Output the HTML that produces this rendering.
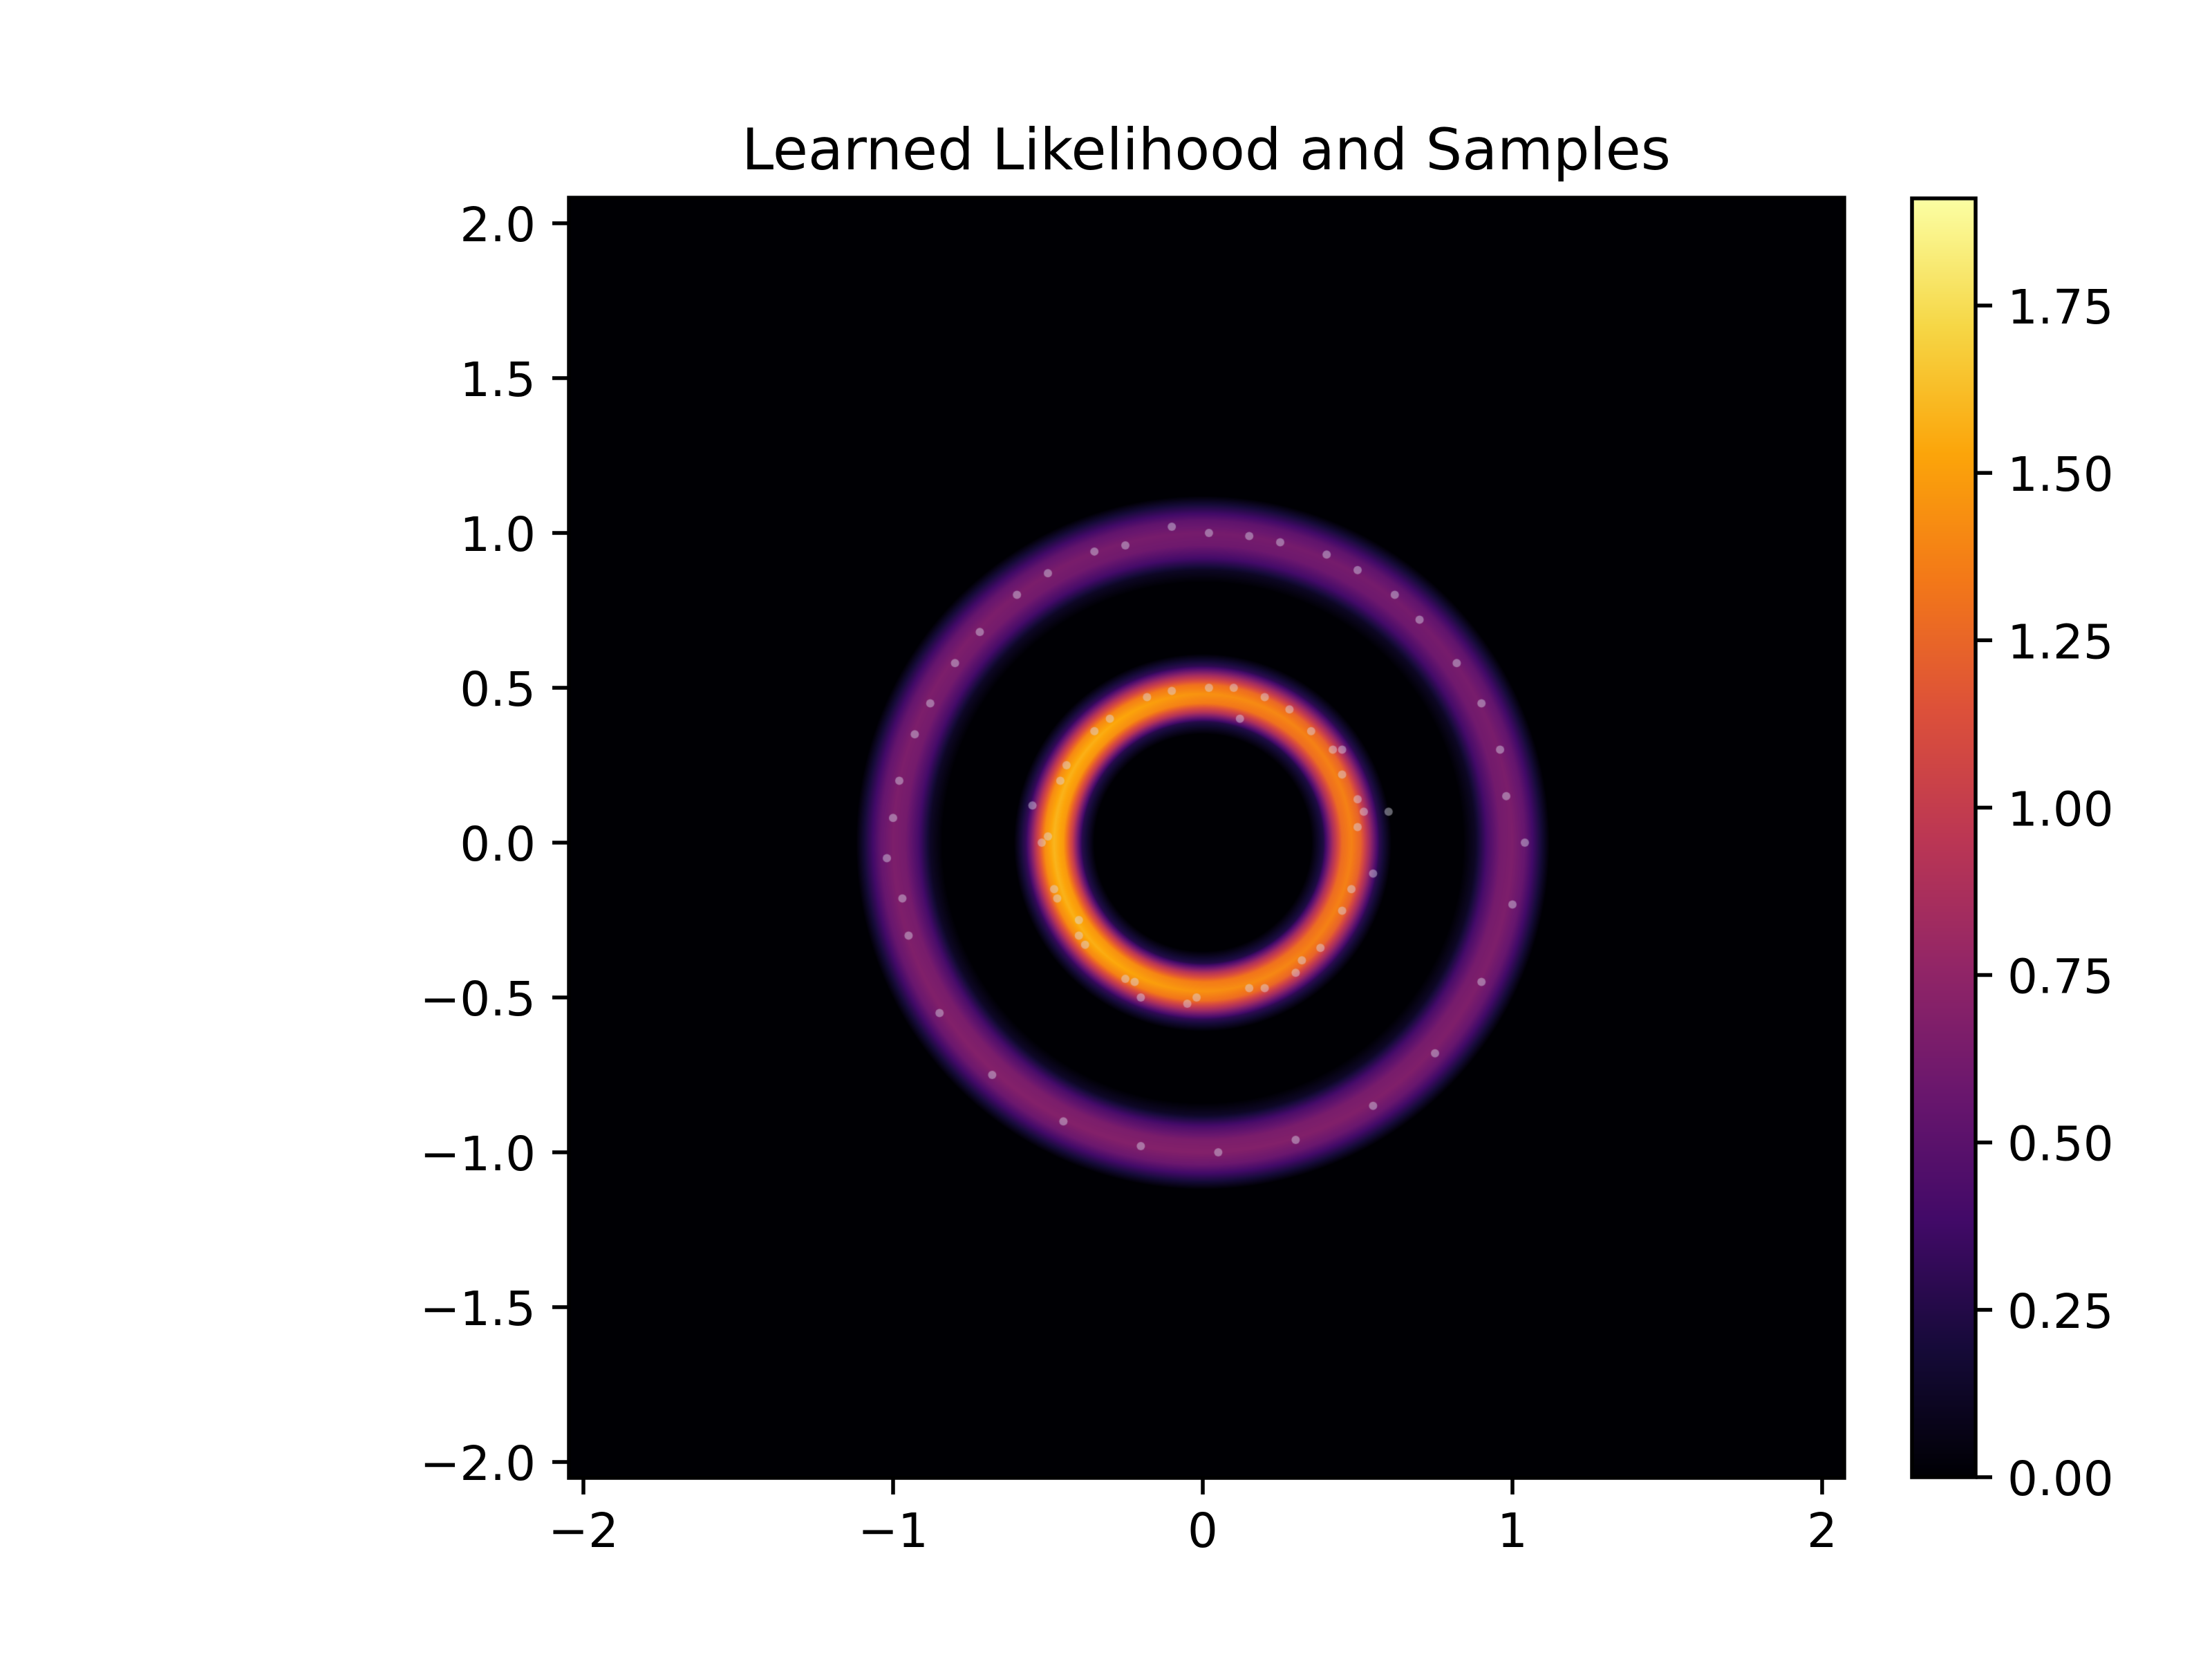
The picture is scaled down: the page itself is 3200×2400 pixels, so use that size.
<!DOCTYPE html>
<html><head><meta charset="utf-8"><style>
html,body{margin:0;padding:0;background:#fff;}
#wrap{position:relative;width:3200px;height:2400px;overflow:hidden;}
canvas{position:absolute;}
svg{position:absolute;left:0;top:0;}
text{font-family:"DejaVu Sans","Liberation Sans",sans-serif;fill:#000;}
</style></head><body>
<div id="wrap">
<canvas id="heat" width="1845" height="1852" style="left:823px;top:286px;"></canvas>
<canvas id="cbar" width="92" height="1850" style="left:2766px;top:287px;"></canvas>
<svg id="svg" width="3200" height="2400" xmlns="http://www.w3.org/2000/svg">
<text x="1745" y="245" font-size="83" text-anchor="middle">Learned Likelihood and Samples</text>
</svg>
</div>
<script>
// ---- data ----
const xTicks = [-2, -1, 0, 1, 2];
const yTicks = [2.0, 1.5, 1.0, 0.5, 0.0, -0.5, -1.0, -1.5, -2.0];
const cbarTicks = [0.00, 0.25, 0.50, 0.75, 1.00, 1.25, 1.50, 1.75];
const vMax = 1.91;
// radial density profile (radius -> likelihood)
const profileR = [0, 0.35, 0.39, 0.42, 0.45, 0.48, 0.51, 0.54, 0.57, 0.61, 0.84, 0.88, 0.92, 0.96, 1.0, 1.04, 1.08, 1.12, 3];
const profileD = [0, 0, 0.25, 0.9, 1.35, 1.45, 1.3, 0.85, 0.3, 0, 0, 0.12, 0.42, 0.62, 0.66, 0.55, 0.28, 0, 0];
// angular gains, angles 0,45,...,315 deg
const innerGain = [0.95, 0.95, 1.0, 1.08, 1.1, 1.08, 1.0, 0.95];
const outerGain = [1.0, 0.95, 0.95, 1.0, 1.0, 1.05, 1.05, 1.02];
// model samples
const samplesX = [0.98,0.9,0.7,0.5,0.25,0.02,-0.25,-0.5,-0.72,-0.88,-0.98,-1.02,-0.95,-0.85,-0.68,-0.45,-0.2,0.05,0.3,0.55,0.75,0.9,1.0,1.04,0.96,0.82,0.62,0.4,0.15,-0.1,-0.35,-0.6,-0.8,-0.93,-1.0,-0.97,
 0.5,0.45,0.35,0.2,0.02,-0.18,-0.35,-0.46,-0.5,-0.47,-0.38,-0.22,-0.02,0.2,0.38,0.48,0.52,0.42,0.28,0.1,-0.1,-0.3,-0.44,-0.52,-0.48,-0.4,-0.25,-0.05,0.15,0.32,0.45,0.55,0.5,0.3,-0.55,-0.4,0.6,0.12,-0.2,0.45];
const samplesY = [0.15,0.45,0.72,0.88,0.97,1.0,0.96,0.87,0.68,0.45,0.2,-0.05,-0.3,-0.55,-0.75,-0.9,-0.98,-1.0,-0.96,-0.85,-0.68,-0.45,-0.2,0.0,0.3,0.58,0.8,0.93,0.99,1.02,0.94,0.8,0.58,0.35,0.08,-0.18,
 0.05,0.22,0.36,0.47,0.5,0.47,0.36,0.2,0.02,-0.18,-0.33,-0.45,-0.5,-0.47,-0.34,-0.15,0.1,0.3,0.43,0.5,0.49,0.4,0.25,0.0,-0.15,-0.3,-0.44,-0.52,-0.47,-0.38,-0.22,-0.1,0.14,-0.42,0.12,-0.25,0.1,0.4,-0.5,0.3];
// ---- scales ----
const X0 = 1740, Y0 = 1219, S = 448;
const PL = 823, PT = 286, PW = 1845, PH = 1852;
const sx = v => X0 + v * S;
const sy = v => Y0 - v * S;
const CB_T = 287, CB_B = 2137, CB_L = 2766, CB_R = 2858;
const sc = v => CB_B - v / vMax * (CB_B - CB_T);

const inferno = [[0,0,4],[22,11,57],[66,10,104],[106,23,110],[147,38,103],[188,55,84],[221,81,58],[243,120,25],[252,165,10],[246,215,70],[252,255,164]];
function cmap(t){t=Math.max(0,Math.min(1,t))*10;const i=Math.min(9,Math.floor(t)),f=t-i;const a=inferno[i],b=inferno[i+1];return [a[0]+(b[0]-a[0])*f,a[1]+(b[1]-a[1])*f,a[2]+(b[2]-a[2])*f];}
function interp(xs,ys,x){for(let i=1;i<xs.length;i++){if(x<=xs[i]){const f=(x-xs[i-1])/(xs[i]-xs[i-1]);return ys[i-1]+(ys[i]-ys[i-1])*f;}}return ys[ys.length-1];}
function gain(arr,ang){let a=(ang*180/Math.PI+360)%360/45;const i=Math.floor(a)%8,f=a-Math.floor(a);return arr[i]+(arr[(i+1)%8]-arr[i])*f;}

// heatmap
(function(){
 const c=document.getElementById('heat'),ctx=c.getContext('2d');
 const img=ctx.createImageData(PW,PH),d=img.data;
 for(let py=0;py<PH;py++){const y=(Y0-(PT+py+0.5))/S;
  for(let px=0;px<PW;px++){const x=(PL+px+0.5-X0)/S;
   const r=Math.sqrt(x*x+y*y);let v=interp(profileR,profileD,r);
   if(v>0){const ang=Math.atan2(y,x);v*=gain(r<0.7?innerGain:outerGain,ang);}
   const col=cmap(v/vMax);const k=(py*PW+px)*4;d[k]=col[0];d[k+1]=col[1];d[k+2]=col[2];d[k+3]=255;}}
 ctx.putImageData(img,0,0);
 for(let i=0;i<samplesX.length;i++){
  ctx.beginPath();ctx.arc(sx(samplesX[i])-PL,sy(samplesY[i])-PT,6,0,Math.PI*2);
  ctx.fillStyle='rgba(220,220,235,0.45)';ctx.fill();}
})();
// colorbar
(function(){
 const c=document.getElementById('cbar'),ctx=c.getContext('2d');
 for(let y=0;y<1850;y++){const col=cmap(1-y/1849);ctx.fillStyle=`rgb(${col[0]|0},${col[1]|0},${col[2]|0})`;ctx.fillRect(0,y,92,1);}
})();
// axes
const svg=document.getElementById('svg');const NS='http://www.w3.org/2000/svg';
function mk(tag,attrs){const e=document.createElementNS(NS,tag);for(const k in attrs)e.setAttribute(k,attrs[k]);svg.appendChild(e);return e;}
let e=mk('rect',{x:PL,y:PT,width:PW,height:PH,fill:'none',stroke:'#000','stroke-width':5.5});


e=mk('rect',{x:CB_L,y:CB_T,width:CB_R-CB_L,height:CB_B-CB_T,fill:'none',stroke:'#000','stroke-width':5.5});


const fmt=v=>(v<0?'\u2212':'')+Math.abs(v);
xTicks.forEach(v=>{
 const x=sx(v);
 const t=mk('line',{x1:x,x2:x,y1:PT+PH,y2:PT+PH+24,stroke:'#000','stroke-width':5.5});
 
 
 const l=mk('text',{x:x,y:PT+PH+100,'font-size':69,'text-anchor':'middle'});l.textContent=fmt(v);
 
 
});
yTicks.forEach(v=>{
 const y=sy(v);
 const t=mk('line',{x1:PL-24,x2:PL,y1:y,y2:y,stroke:'#000','stroke-width':5.5});
 
 
 const l=mk('text',{x:PL-48,y:y+26,'font-size':69,'text-anchor':'end'});l.textContent=(v<0?'\u2212':'')+Math.abs(v).toFixed(1);
 
 
});
cbarTicks.forEach(v=>{
 const y=sc(v);
 const t=mk('line',{x1:CB_R,x2:CB_R+24,y1:y,y2:y,stroke:'#000','stroke-width':5.5});
 
 
 const l=mk('text',{x:CB_R+46,y:y+26,'font-size':69});l.textContent=v.toFixed(2);
 
 
});
</script>
</body></html>
